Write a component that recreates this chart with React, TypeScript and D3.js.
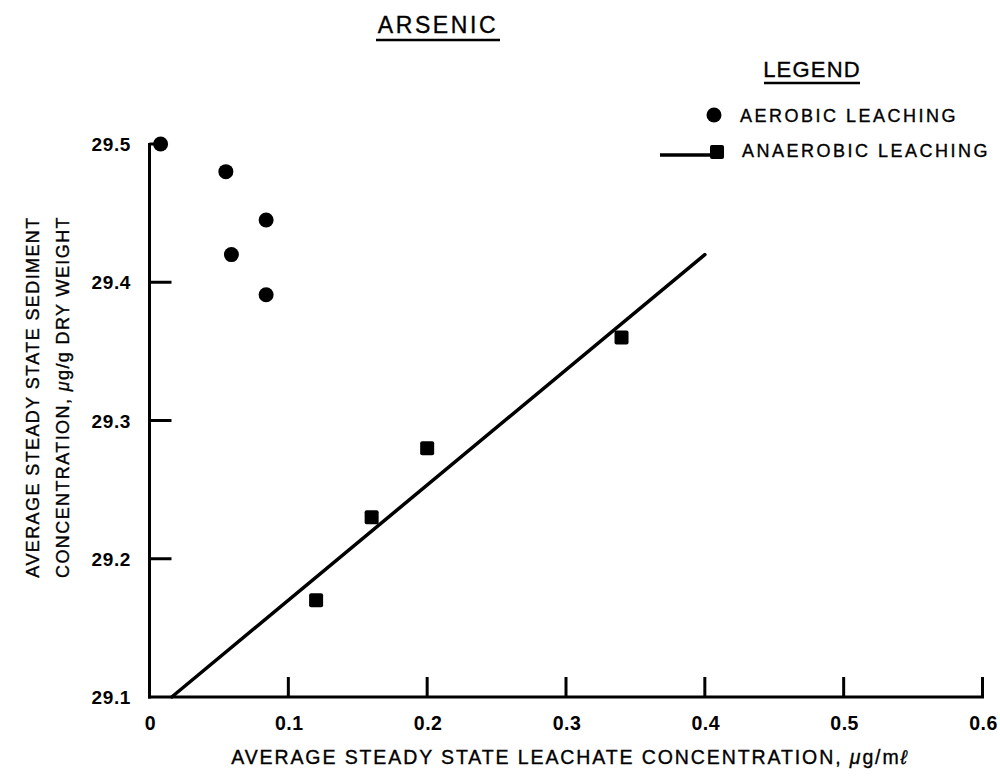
import React from "react";
import * as d3 from "d3";

const aerobicX = [0.008, 0.055, 0.084, 0.059, 0.084];
const aerobicY = [29.5, 29.48, 29.445, 29.42, 29.391];
const anaerobicX = [0.12, 0.16, 0.2, 0.34];
const anaerobicY = [29.17, 29.23, 29.28, 29.36];
const fitX = [0.016, 0.4];
const fitY = [29.1, 29.42];
const xTicks = [0, 0.1, 0.2, 0.3, 0.4, 0.5, 0.6];
const xTickLabels = ["0", "0.1", "0.2", "0.3", "0.4", "0.5", "0.6"];
const yTicks = [29.1, 29.2, 29.3, 29.4, 29.5];
const yTickLabels = ["29.1", "29.2", "29.3", "29.4", "29.5"];

export default function App() {
  const W = 1000, H = 776;
  const x = d3.scaleLinear().domain([0, 0.6]).range([149.5, 982.5]);
  const y = d3.scaleLinear().domain([29.1, 29.5]).range([697, 144]);
  const font = "'Liberation Sans', Arial, Helvetica, sans-serif";
  const line = d3.line<number>().x((d, i) => x(fitX[i])).y((d, i) => y(fitY[i]));
  const fitPath = line(fitX) || "";
  const circleR = 7.5;
  const sq = 14;
  const ink = { fill: "#000", stroke: "#000", strokeWidth: 0.35 };

  return (
    <svg width={W} height={H} style={{ position: "absolute", left: 0, top: 0, background: "#fff" }} fontFamily={font}>
      <rect x={0} y={0} width={W} height={H} fill="#fff" />
      {/* Title */}
      <text x={438} y={33} textAnchor="middle" fontSize={23} letterSpacing={2.6} {...ink}>ARSENIC</text>
      <line x1={376} x2={500} y1={40} y2={40} stroke="#000" strokeWidth={2.5} />
      {/* Legend */}
      <text x={812} y={77} textAnchor="middle" fontSize={22} letterSpacing={1.2} {...ink}>LEGEND</text>
      <line x1={764} x2={860} y1={83} y2={83} stroke="#000" strokeWidth={2.5} />
      <circle cx={714} cy={115} r={7.5} fill="#000" />
      <text x={740} y={122} fontSize={18} letterSpacing={2.5} {...ink}>AEROBIC LEACHING</text>
      <line x1={660} x2={712} y1={155} y2={155} stroke="#000" strokeWidth={3.5} />
      <rect x={710} y={145} width={14} height={14} rx={2} fill="#000" />
      <text x={742} y={157} fontSize={18} letterSpacing={2.5} {...ink}>ANAEROBIC LEACHING</text>

      {/* Axes */}
      <line x1={x(0)} x2={x(0)} y1={y(29.5) - 1} y2={y(29.1) + 1.5} stroke="#000" strokeWidth={3} />
      <line x1={x(0) - 1.5} x2={x(0.6) + 1.5} y1={y(29.1)} y2={y(29.1)} stroke="#000" strokeWidth={3} />
      {xTicks.map((t, i) => (
        <g key={"xt" + i}>
          {i > 0 && (
            <line x1={x(t)} x2={x(t)} y1={y(29.1)} y2={y(29.1) - 20} stroke="#000" strokeWidth={3} />
          )}
          <text x={x(t) + 1} y={730} textAnchor="middle" fontSize={19.5} fontWeight="bold" letterSpacing={0.5} fill="#000">
            {xTickLabels[i]}
          </text>
        </g>
      ))}
      {yTicks.map((t, i) => (
        <g key={"yt" + i}>
          {t > 29.1 && (
            <line x1={x(0)} x2={x(0) + (t === 29.5 ? 6 : 22)} y1={y(t)} y2={y(t)} stroke="#000" strokeWidth={3} />
          )}
          <text x={131} y={y(t) + 7} textAnchor="end" fontSize={19} fontWeight="bold" letterSpacing={0.6} fill="#000">
            {yTickLabels[i]}
          </text>
        </g>
      ))}

      {/* Axis titles */}
      <text x={570} y={764} textAnchor="middle" fontSize={19.5} letterSpacing={1.9} {...ink}>
        AVERAGE STEADY STATE LEACHATE CONCENTRATION, <tspan fontStyle="italic">μ</tspan>g/m<tspan fontStyle="italic">ℓ</tspan>
      </text>
      <g transform="translate(39,397) rotate(-90)">
        <text x={0} y={0} textAnchor="middle" fontSize={18} letterSpacing={1.4} {...ink}>
          AVERAGE STEADY STATE SEDIMENT
        </text>
      </g>
      <g transform="translate(69,397) rotate(-90)">
        <text x={0} y={0} textAnchor="middle" fontSize={18} letterSpacing={1.4} {...ink}>
          CONCENTRATION, <tspan fontStyle="italic">μ</tspan>g/g DRY WEIGHT
        </text>
      </g>

      {/* Fit line */}
      <path d={fitPath} stroke="#000" strokeWidth={3.5} fill="none" strokeLinecap="round" />

      {/* Aerobic points */}
      {aerobicX.map((v, i) => (
        <circle key={"a" + i} cx={x(v)} cy={y(aerobicY[i])} r={circleR} fill="#000" />
      ))}
      {/* Anaerobic points */}
      {anaerobicX.map((v, i) => (
        <rect key={"n" + i} x={x(v) - sq / 2} y={y(anaerobicY[i]) - sq / 2} width={sq} height={sq} rx={2} fill="#000" />
      ))}
    </svg>
  );
}
